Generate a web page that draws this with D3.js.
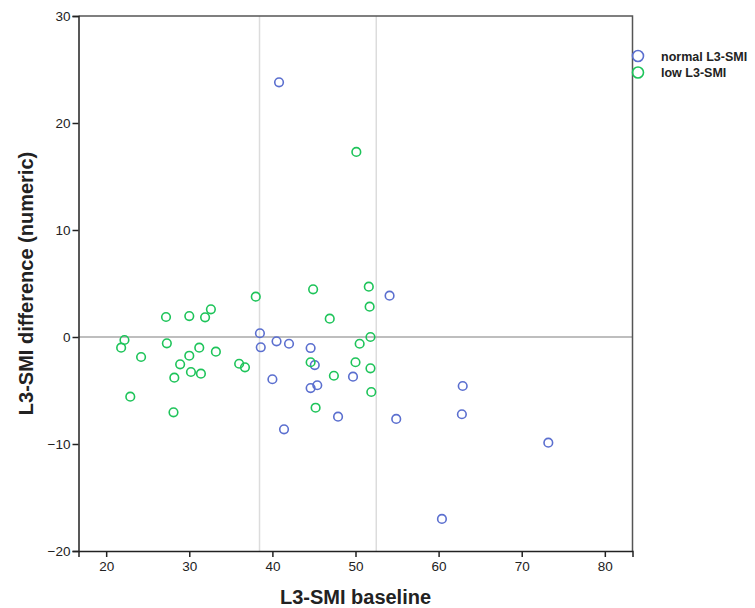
<!DOCTYPE html>
<html>
<head>
<meta charset="utf-8">
<script src="https://cdn.jsdelivr.net/npm/d3@7"></script>
<style>
  body { margin: 0; background: #fff; }
  text { font-family: "Liberation Sans", Arial, sans-serif; }
</style>
</head>
<body>
<svg id="chart" width="755" height="608"></svg>
<script>
// normal L3-SMI group: [baseline, difference]
var normalPoints = [
  [40.8, 23.8], [54.1, 3.86], [38.5, 0.35], [38.6, -0.96], [40.5, -0.40],
  [42.0, -0.63], [44.6, -1.03], [45.1, -2.62], [49.7, -3.71], [40.0, -3.95],
  [44.6, -4.77], [45.4, -4.51], [47.9, -7.45], [41.4, -8.63], [54.9, -7.66],
  [62.9, -4.58], [62.8, -7.22], [73.2, -9.88], [60.4, -17.0]
];

// low L3-SMI group
var lowPoints = [
  [50.1, 17.3], [38.0, 3.77], [44.9, 4.46], [51.6, 4.70], [51.7, 2.83],
  [46.9, 1.71], [51.8, 0.0], [50.5, -0.63], [36.0, -2.50], [36.7, -2.83],
  [44.6, -2.36], [50.0, -2.36], [51.8, -2.93], [47.4, -3.62], [51.9, -5.14],
  [45.2, -6.61],
  [27.2, 1.87], [30.0, 1.96], [31.9, 1.84], [32.6, 2.59], [22.2, -0.28],
  [21.8, -1.0], [27.3, -0.59], [24.2, -1.87], [31.2, -1.0], [30.0, -1.75],
  [33.2, -1.37], [28.9, -2.55], [30.2, -3.27], [31.4, -3.43], [28.2, -3.8],
  [22.9, -5.58], [28.1, -7.04]
];

var xTicks = [20, 30, 40, 50, 60, 70, 80];
var yTicks = [-20, -10, 0, 10, 20, 30];
var refX = [38.45, 52.5];
var refY = [0];

var groups = [
  { name: "normal L3-SMI", color: "#5b6fcf", data: normalPoints },
  { name: "low L3-SMI", color: "#1ec45a", data: lowPoints }
];

var svg = d3.select("#chart");
var m = { left: 78.5, right: 632.5, top: 16, bottom: 551 };

var x = d3.scaleLinear().domain([16.67, 83.33]).range([m.left, m.right]);
var y = d3.scaleLinear().domain([-20, 30]).range([m.bottom, m.top]);

// reference lines
svg.selectAll(".refx")
  .data(refX)
  .enter().append("line")
    .attr("x1", function(d) { return x(d); })
    .attr("x2", function(d) { return x(d); })
    .attr("y1", m.top).attr("y2", m.bottom)
    .attr("stroke", "#dcdcdc").attr("stroke-width", 1.5);

svg.selectAll(".refy")
  .data(refY)
  .enter().append("line")
    .attr("x1", m.left).attr("x2", m.right)
    .attr("y1", function(d) { return y(d); })
    .attr("y2", function(d) { return y(d); })
    .attr("stroke", "#a8a8a8").attr("stroke-width", 1.5);

// frame: top and right
svg.append("path")
    .attr("d", "M" + m.left + "," + m.top + "H" + m.right + "V" + m.bottom)
    .attr("fill", "none").attr("stroke", "#555").attr("stroke-width", 1.5);

// axes
var xAxis = svg.append("g")
    .attr("transform", "translate(0," + m.bottom + ")")
    .call(d3.axisBottom(x).tickValues(xTicks).tickSize(6).tickPadding(4));
var yAxis = svg.append("g")
    .attr("transform", "translate(" + m.left + ",0)")
    .call(d3.axisLeft(y).tickValues(yTicks).tickSize(6).tickPadding(2));

[xAxis, yAxis].forEach(function(a) {
  a.select(".domain").attr("stroke", "#222").attr("stroke-width", 1.5);
  a.selectAll(".tick line").attr("stroke", "#222").attr("stroke-width", 1.5);
  a.selectAll(".tick text").attr("font-size", 13.5).attr("fill", "#222")
    .style("font-family", "'Liberation Sans', Arial, sans-serif");
});

// points
groups.forEach(function(g) {
  svg.append("g").selectAll("circle")
    .data(g.data)
    .enter().append("circle")
      .attr("cx", function(d) { return x(d[0]); })
      .attr("cy", function(d) { return y(d[1]); })
      .attr("r", 4.3)
      .attr("fill", "none")
      .attr("stroke", g.color)
      .attr("stroke-width", 1.6);
});

// axis titles
svg.append("text")
    .attr("x", (m.left + m.right) / 2)
    .attr("y", 604)
    .attr("text-anchor", "middle")
    .attr("font-size", 20)
    .attr("font-weight", "bold")
    .attr("fill", "#222")
    .text("L3-SMI baseline");

svg.append("text")
    .attr("transform", "translate(33," + ((m.top + m.bottom) / 2) + ") rotate(-90)")
    .attr("text-anchor", "middle")
    .attr("font-size", 20)
    .attr("font-weight", "bold")
    .attr("fill", "#222")
    .text("L3-SMI difference (numeric)");

// legend
var legend = svg.append("g").attr("transform", "translate(638,56)");
var items = legend.selectAll("g")
  .data(groups)
  .enter().append("g")
    .attr("transform", function(d, i) { return "translate(0," + (i * 16.5) + ")"; });
items.append("circle")
    .attr("r", 5.5)
    .attr("fill", "none")
    .attr("stroke", function(d) { return d.color; })
    .attr("stroke-width", 1.6);
items.append("text")
    .attr("x", 23)
    .attr("y", 4.5)
    .attr("font-size", 12.5)
    .attr("font-weight", "bold")
    .attr("fill", "#222")
    .text(function(d) { return d.name; });
</script>
</body>
</html>
